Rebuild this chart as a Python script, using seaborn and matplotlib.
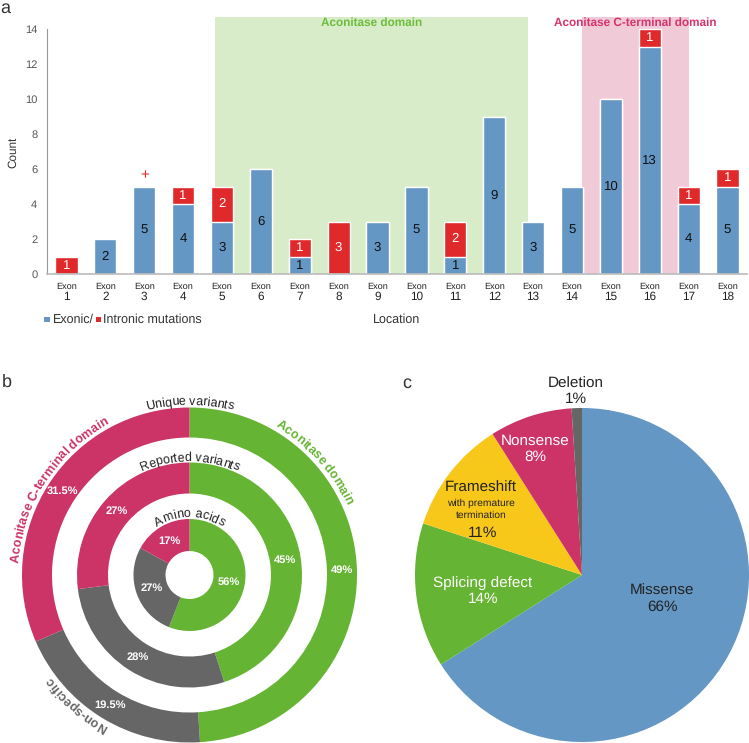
import numpy as np
import pandas as pd
import matplotlib
matplotlib.use("Agg")
import matplotlib.pyplot as plt
import seaborn as sns
from matplotlib.font_manager import FontProperties, findfont
from matplotlib.ft2font import FT2Font
from matplotlib.patches import Rectangle

# ---- data ----
exons = [str(i) for i in range(1, 19)]
exonic = [0, 2, 5, 4, 3, 6, 1, 0, 3, 5, 1, 9, 3, 5, 10, 13, 4, 5]
intronic = [1, 0, 0, 1, 2, 0, 1, 3, 0, 0, 2, 0, 0, 0, 0, 1, 1, 1]

domains = ["Aconitase domain", "Non-specific", "Aconitase C-terminal domain"]
unique_variants = [49, 19.5, 31.5]
reported_variants = [45, 28, 27]
amino_acids = [56, 27, 17]

mut_types = ["Missense", "Splicing defect", "Frameshift", "Nonsense", "Deletion"]
mut_pct = [66, 14, 11, 8, 1]

BLUE = "#6497c4"
RED = "#e0292a"
GREEN = "#66b433"
GREY = "#666666"
PINK = "#cc3366"
YELLOW = "#f7c71a"
GREEN_BG = "#d9ecca"
PINK_BG = "#f1cad8"
TXT = "#333333"

sns.set_theme(style="white")
plt.rcParams["font.family"] = ["Liberation Sans", "DejaVu Sans"]
plt.rcParams["text.hinting"] = "no_hinting"
FONT = "Liberation Sans"

W, H = 749, 743
fig = plt.figure(figsize=(W / 100, H / 100), dpi=100)


def px_axes(l, t, r, b):
    return fig.add_axes([l / W, 1 - b / H, (r - l) / W, (b - t) / H])


# ---- panel a: stacked bars ----
ax = px_axes(47, 16.75, 747, 274)
df = pd.DataFrame({"exon": exons, "exonic": exonic, "intronic": intronic})
df["total"] = df["exonic"] + df["intronic"]

ax.axvspan(3.81, 11.86, color=GREEN_BG, lw=0, zorder=0)
ax.axvspan(13.25, 16.0, color=PINK_BG, lw=0, zorder=0)
sns.barplot(data=df, x="exon", y="total", color=RED, saturation=1, width=0.57,
            errorbar=None, ax=ax, zorder=2)
sns.barplot(data=df, x="exon", y="exonic", color=BLUE, saturation=1, width=0.57,
            errorbar=None, ax=ax, zorder=3)

ax.set_xlim(-0.5, 17.5)
ax.set_ylim(0, 14.7)
ax.set_yticks(range(0, 15, 2))
ax.set_xticks(range(len(exons)))
ax.set_xticklabels([])
ax.set_xlabel("")
ax.set_ylabel("")
ax.tick_params(axis="y", length=0, labelsize=8, colors="#555555", pad=7)
ax.tick_params(axis="x", length=0)
for s in ["top", "right"]:
    ax.spines[s].set_visible(False)
ax.spines["left"].set_bounds(0, 14)
ax.spines["left"].set_color("#999999")
ax.spines["left"].set_linewidth(0.8)
ax.spines["bottom"].set_color("#bbbbbb")
ax.spines["bottom"].set_linewidth(1.2)
ax.spines["bottom"].set_zorder(4)

tr = ax.get_xaxis_transform()
for i, ex in enumerate(exons):
    ax.text(i, -0.0505, "Exon", transform=tr, ha="center", va="center",
            fontsize=6.6, color="#222222")
    ax.text(i, -0.0894, ex, transform=tr, ha="center", va="center",
            fontsize=8.5, color="#222222")
    if exonic[i] > 0:
        ax.text(i, exonic[i] / 2, str(exonic[i]), ha="center", va="center",
                fontsize=9.5, color="#111111", zorder=5)
    if intronic[i] > 0:
        ax.text(i, exonic[i] + intronic[i] / 2, str(intronic[i]), ha="center",
                va="center", fontsize=9.5, color="white", zorder=5)

ax.text(2, 5.66, "+", ha="center", va="center", fontsize=11, color=RED)
ax.text((3.81 + 11.86) / 2, 14.34, "Aconitase domain", ha="center", va="center",
        fontsize=8.5, fontweight="bold", color="#6cbd3a")
ax.text((13.25 + 16.0) / 2, 14.34, "Aconitase C-terminal domain", ha="center",
        va="center", fontsize=8.5, fontweight="bold", color="#d6336c")

fig.text(13 / W, 1 - 152 / H, "Count", rotation=90, ha="center", va="center",
         fontsize=8.5, color=TXT)
fig.text(397 / W, 1 - 319.5 / H, "Location", ha="center", va="center",
         fontsize=9, color=TXT)
fig.add_artist(Rectangle((44.3 / W, 1 - 322.3 / H), 5.7 / W, 5.7 / H,
                         transform=fig.transFigure, color=BLUE, lw=0))
fig.text(52.5 / W, 1 - 319.5 / H, "Exonic/", ha="left", va="center",
         fontsize=9, color=TXT)
fig.add_artist(Rectangle((95.5 / W, 1 - 322.3 / H), 5.2 / W, 5.7 / H,
                         transform=fig.transFigure, color=RED, lw=0))
fig.text(103 / W, 1 - 319.5 / H, "Intronic mutations", ha="left", va="center",
         fontsize=9, color=TXT)

# ---- panel b: concentric rings ----
axb = px_axes(9.5, 395, 369.5, 755)
ring_colors = [GREEN, GREY, PINK]


def fmt(p):
    return f"{p:.1f}".rstrip("0").rstrip(".") + "%"


for vals, rad, wid, pdist in [(unique_variants, 167.5, 30, 0.91),
                              (reported_variants, 112.5, 31, 0.862),
                              (amino_acids, 56, 32, 0.714)]:
    axb.pie(vals, radius=rad, colors=ring_colors, startangle=90, counterclock=False,
            wedgeprops=dict(width=wid, linewidth=0), autopct=fmt, pctdistance=pdist,
            textprops=dict(color="white", fontsize=8, fontweight="bold"))
axb.set_xlim(-180, 180)
axb.set_ylim(-180, 180)
axb.axis("off")


def arc_text(axx, text, r, center_deg, size, color, weight="normal"):
    # place characters one by one along a circle (data units are pixels here)
    fp = FontProperties(family=FONT, size=size, weight=weight)
    font = FT2Font(findfont(fp))
    font.set_size(size, fig.dpi)
    adv = [font.load_char(ord(ch)).linearHoriAdvance / 65536 for ch in text]
    total = sum(adv)
    start = -total / 2
    for ch, a in zip(text, adv):
        pos = start + a / 2
        start += a
        if ch == " ":
            continue
        th = np.radians(center_deg) + pos / r
        axx.text(r * np.sin(th), r * np.cos(th), ch, fontproperties=fp, color=color,
                 rotation=-np.degrees(th), rotation_mode="anchor",
                 ha="center", va="baseline")


arc_text(axb, "Unique variants", 170, 0, 9, "#222222")
arc_text(axb, "Reported variants", 114, 0, 9, "#222222")
arc_text(axb, "Amino acids", 58, 0, 9, "#222222")
arc_text(axb, domains[0], 171.5, 48, 9, GREEN, "bold")
arc_text(axb, domains[2], 171.5, 303, 9, PINK, "bold")
arc_text(axb, domains[1], 171.5, 221, 9, GREY, "bold")

# ---- panel c: mutation types ----
axc = px_axes(402, 395, 762, 755)
pie_colors = [BLUE, GREEN, YELLOW, PINK, GREY]
axc.pie(mut_pct, radius=167, colors=pie_colors, startangle=90, counterclock=False,
        wedgeprops=dict(linewidth=0))
axc.set_xlim(-180, 180)
axc.set_ylim(-180, 180)
axc.axis("off")

axc.text(80, -24, f"{mut_types[0]}\n{mut_pct[0]}%", ha="center", va="center",
         fontsize=11, color="#222222", linespacing=1.15)
axc.text(-99, -16, f"{mut_types[1]}\n{mut_pct[1]}%", ha="center", va="center",
         fontsize=11, color="white", linespacing=1.15)
axc.text(-101, 87, mut_types[2], ha="center", va="center", fontsize=11,
         color="#222222")
axc.text(-101, 72, "with premature", ha="center", va="center", fontsize=7.4,
         color="#222222")
axc.text(-101, 60, "termination", ha="center", va="center", fontsize=7.4,
         color="#222222")
axc.text(-99, 42, f"{mut_pct[2]}%", ha="center", va="center", fontsize=11,
         color="#222222")
axc.text(-47, 126, f"{mut_types[3]}\n{mut_pct[3]}%", ha="center", va="center",
         fontsize=11, color="white", linespacing=1.15)
axc.text(-6, 183.5, f"{mut_types[4]}\n{mut_pct[4]}%", ha="center", va="center",
         fontsize=11, color="#222222", linespacing=1.15)

# panel letters
for lbl, x, y in [("a", 5, 8), ("b", 7, 382), ("c", 407, 383)]:
    fig.text(x / W, 1 - y / H, lbl, ha="center", va="center", fontsize=13,
             color=TXT)

fig.savefig("out.png", dpi=100)
